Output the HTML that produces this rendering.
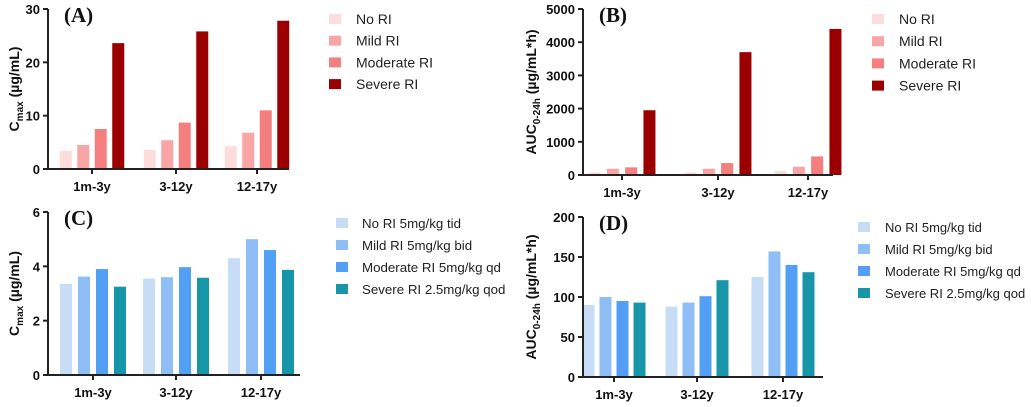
<!DOCTYPE html>
<html><head><meta charset="utf-8"><style>
body{margin:0;background:#fff;}
svg text{font-family:"Liberation Sans",Arial,sans-serif;}
</style></head><body>
<svg id="c" width="1031" height="402" xmlns="http://www.w3.org/2000/svg"></svg>
<script>
const categories = ["1m-3y","3-12y","12-17y"];
const seriesA_no = [3.4,3.6,4.3];
const seriesA_mild = [4.5,5.4,6.8];
const seriesA_mod = [7.5,8.7,11.0];
const seriesA_sev = [23.6,25.8,27.8];
const seriesB_no = [80,80,120];
const seriesB_mild = [190,190,250];
const seriesB_mod = [230,360,560];
const seriesB_sev = [1950,3700,4400];
const seriesC_no = [3.35,3.55,4.3];
const seriesC_mild = [3.62,3.6,5.0];
const seriesC_mod = [3.9,3.97,4.6];
const seriesC_sev = [3.25,3.58,3.87];
const seriesD_no = [90,88,125];
const seriesD_mild = [100,93,157];
const seriesD_mod = [95,101,140];
const seriesD_sev = [93,121,131];
const ticksA = [0,10,20,30];
const ticksB = [0,1000,2000,3000,4000,5000];
const ticksC = [0,2,4,6];
const ticksD = [0,50,100,150,200];
const legendTop = ["No RI","Mild RI","Moderate RI","Severe RI"];
const legendBottom = ["No RI 5mg/kg tid","Mild RI 5mg/kg bid","Moderate RI 5mg/kg qd","Severe RI 2.5mg/kg qod"];

const NS="http://www.w3.org/2000/svg";
const svg=document.getElementById('c');
function mk(tag,attrs,parent){const e=document.createElementNS(NS,tag);for(const k in attrs)e.setAttribute(k,attrs[k]);(parent||svg).appendChild(e);return e;}

const redCols=["#fddcdc","#f9a5a5","#f57f7f","#9b0000"];
const blueCols=["#c7dcf5","#8fbdf5","#539ff5","#1696a8"];

function panel(p){
  const g=mk('g',{});
  
  
  const ymax=p.ticks[p.ticks.length-1];
  const yS=v=>p.y0-(v/ymax)*(p.y0-p.yTop);
  p.series.forEach((s,si)=>{
    s.forEach((v,ci)=>{
      const cx=p.cx[ci]+(si-1.5)*p.step;
      const r=mk('rect',{x:cx-p.bw/2,y:yS(v),width:p.bw,height:p.y0-yS(v),fill:p.cols[si]},g);
      
      
    });
  });
  const ya=mk('line',{x1:p.x0,y1:p.yTop,x2:p.x0,y2:p.y0+1,stroke:'#222','stroke-width':2},g);
  
  const xa=mk('line',{x1:p.x0-1,y1:p.y0,x2:p.x1,y2:p.y0,stroke:'#222','stroke-width':2},g);
  
  p.ticks.forEach(t=>{
    mk('line',{x1:p.x0-5,y1:yS(t),x2:p.x0,y2:yS(t),stroke:'#222','stroke-width':2},g);
    const tl=mk('text',{x:p.x0-8,y:yS(t)+5,'text-anchor':'end','font-size':13,'font-weight':'bold',fill:'#111'},g);
    tl.textContent=t;
    
  });
  categories.forEach((c,ci)=>{
    mk('line',{x1:p.cx[ci],y1:p.y0,x2:p.cx[ci],y2:p.y0+5,stroke:'#222','stroke-width':2},g);
    const tl=mk('text',{x:p.cx[ci],y:p.y0+22,'text-anchor':'middle','font-size':13,'font-weight':'bold',fill:'#111'},g);
    tl.textContent=c;
    
  });
  const pl=mk('text',{x:p.x0+16,y:p.yTop+13,'font-size':21,'font-weight':'bold',fill:'#111',style:'font-family:"Liberation Serif",serif'},g);
  pl.textContent='('+p.id+')';
  
  const yt=mk('text',{transform:`translate(${p.ytx},${(p.yTop+p.y0)/2}) rotate(-90)`,'text-anchor':'middle','font-size':14,'font-weight':'bold',fill:'#111'},g);
  
  const t1=mk('tspan',{},yt);t1.textContent=p.ytMain;
  const t2=mk('tspan',{'font-size':10,dy:4},yt);t2.textContent=p.ytSub;
  const t3=mk('tspan',{dy:-4},yt);t3.textContent=p.ytRest;
  p.legend.forEach((l,i)=>{
    const y=p.ly+i*p.lgap;
    const sw=mk('rect',{x:p.lx,y:y-5,width:12,height:10,fill:p.cols[i]},g);
    
    const lt=mk('text',{x:p.lx+p.loff,y:y+5,'font-size':p.lfs,fill:'#222'},g);
    lt.textContent=l;
    
  });
}

panel({id:'A',series:[seriesA_no,seriesA_mild,seriesA_mod,seriesA_sev],ticks:ticksA,cols:redCols,
  x0:48,x1:289,y0:169,yTop:9,cx:[92,176,257],step:17.5,bw:12,ytx:19,ytMain:'C',ytSub:'max',ytRest:' (µg/mL)',
  legend:legendTop,lx:329,ly:19,lgap:21.7,loff:27,lfs:14});
panel({id:'B',series:[seriesB_no,seriesB_mild,seriesB_mod,seriesB_sev],ticks:ticksB,cols:redCols,
  x0:583,x1:833,y0:175,yTop:9,cx:[622,718,808],step:18.3,bw:12,ytx:536,ytMain:'AUC',ytSub:'0-24h',ytRest:' (µg/mL*h)',
  legend:legendTop,lx:872,ly:19,lgap:22.2,loff:27,lfs:14});
panel({id:'C',series:[seriesC_no,seriesC_mild,seriesC_mod,seriesC_sev],ticks:ticksC,cols:blueCols,
  x0:48,x1:300,y0:375,yTop:212,cx:[93,176,261],step:18,bw:12,ytx:19,ytMain:'C',ytSub:'max',ytRest:' (µg/mL)',
  legend:legendBottom,lx:336,ly:223,lgap:22,loff:26,lfs:13.3});
panel({id:'D',series:[seriesD_no,seriesD_mild,seriesD_mod,seriesD_sev],ticks:ticksD,cols:blueCols,
  x0:583,x1:823,y0:377,yTop:217,cx:[614,697,783],step:17,bw:12,ytx:536,ytMain:'AUC',ytSub:'0-24h',ytRest:' (µg/mL*h)',
  legend:legendBottom,lx:858,ly:227,lgap:22,loff:27,lfs:13});
</script>
</body></html>
